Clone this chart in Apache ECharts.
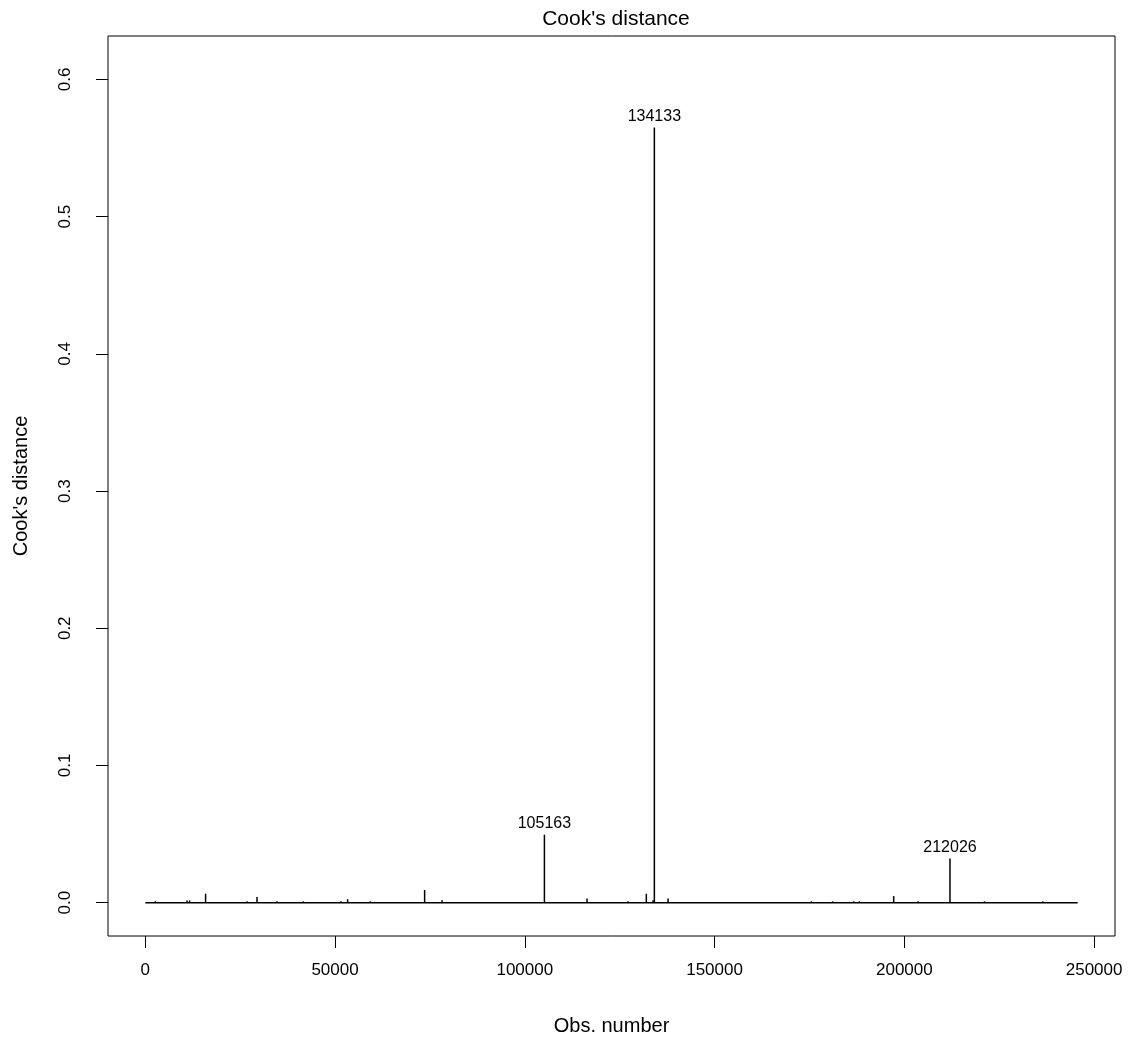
<!DOCTYPE html>
<html>
<head>
<meta charset="utf-8">
<script src="https://cdn.jsdelivr.net/npm/echarts@6/dist/echarts.min.js"></script>
<style>html,body{margin:0;padding:0;background:#fff}#c{width:1137px;height:1041px}</style>
</head>
<body>
<div id="c"></div>
<script>
const nObs = 245680;
const obsNumbers = [2635, 10989, 11674, 15890, 26800, 29435, 34705, 41636, 51570, 53310,
  59292, 73601, 78186, 105163, 116396, 127200, 132022, 133788, 134133, 137741,
  175503, 181116, 186650, 188152, 197190, 203620, 212026, 221092, 236455];
const cookValues = [0.001, 0.0016, 0.0016, 0.0065, 0.001, 0.0042, 0.001, 0.001, 0.001, 0.0025,
  0.001, 0.0092, 0.0018, 0.0495, 0.003, 0.001, 0.0065, 0.0018, 0.565, 0.003,
  0.001, 0.001, 0.001, 0.001, 0.0048, 0.001, 0.0322, 0.001, 0.001];
const labelledObs = [105163, 134133, 212026];
const xTicks = [0, 50000, 100000, 150000, 200000, 250000];
const yTicks = [0, 0.1, 0.2, 0.3, 0.4, 0.5, 0.6];

const yTop = Math.max(...cookValues) * 1.075;
const xMin = 1 - 0.04 * (nObs - 1), xMax = nObs + 0.04 * (nObs - 1);
const yMin = -0.04 * yTop, yMax = yTop * 1.04;

const font = '"Liberation Sans", Arial, sans-serif';
const barData = obsNumbers.map((o, i) => {
  const item = { value: [o, cookValues[i]] };
  if (labelledObs.includes(o)) {
    item.label = { show: true, position: 'top', distance: 3, formatter: String(o),
      color: '#000', fontSize: 16, fontFamily: font };
  }
  return item;
});

const chart = echarts.init(document.getElementById('c'), null, { renderer: 'canvas' });
chart.setOption({
  animation: false,
  backgroundColor: '#fff',
  title: {
    text: "Cook's distance", left: 611, top: 4, textAlign: 'center',
    textStyle: { fontSize: 21, fontWeight: 'normal', color: '#000', fontFamily: font }
  },
  grid: { left: 108, right: 22, top: 36, bottom: 101, show: true,
    borderColor: '#000', borderWidth: 1, backgroundColor: 'transparent' },
  xAxis: {
    type: 'value', min: xMin, max: xMax,
    name: 'Obs. number', nameLocation: 'middle', nameGap: 80,
    nameTextStyle: { fontSize: 20, color: '#000', fontFamily: font },
    axisLine: { show: false, onZero: false },
    axisTick: { show: true, inside: false, length: 12, customValues: xTicks,
      lineStyle: { color: '#000', width: 1 } },
    axisLabel: { customValues: xTicks, margin: 26, fontSize: 17, color: '#000',
      fontFamily: font, formatter: v => String(v), showMinLabel: true, showMaxLabel: true },
    splitLine: { show: false }
  },
  yAxis: {
    type: 'value', min: yMin, max: yMax,
    name: "Cook's distance", nameLocation: 'middle', nameGap: 77, nameRotate: 90,
    nameTextStyle: { fontSize: 20, color: '#000', fontFamily: font },
    axisLine: { show: false, onZero: false },
    axisTick: { show: true, inside: false, length: 12, customValues: yTicks,
      lineStyle: { color: '#000', width: 1 } },
    axisLabel: { customValues: yTicks, rotate: 90, margin: 34, fontSize: 17, color: '#000',
      fontFamily: font, formatter: v => v.toFixed(1) },
    splitLine: { show: false }
  },
  series: [
    {
      type: 'line', data: [[1, 0], [nObs, 0]], symbol: 'none',
      lineStyle: { color: '#000', width: 1.5 }, silent: true, z: 2
    },
    {
      type: 'bar', data: barData, barWidth: 1.5, barGap: '-100%',
      itemStyle: { color: '#000' }, silent: true, z: 3
    }
  ]
});
</script>
</body>
</html>
